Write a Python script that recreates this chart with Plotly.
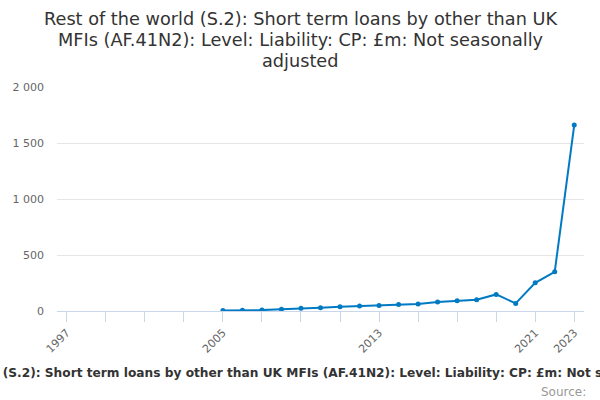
import plotly.graph_objects as go

years = list(range(2005, 2024))
values = [5, 6, 8, 15, 25, 30, 38, 45, 50, 57, 63, 80, 92, 100, 148, 68, 252, 350, 1660]
tick_years = list(range(1997, 2024, 2))
labelled = {1997, 2005, 2013, 2021, 2023}
tick_text = [str(y) if y in labelled else "" for y in tick_years]
y_ticks = [0, 500, 1000, 1500, 2000]
y_tick_text = ["0", "500", "1 000", "1 500", "2 000"]

title_lines = ["Rest of the world (S.2): Short term loans by other than UK",
               "MFIs (AF.41N2): Level: Liability: CP: £m: Not seasonally",
               "adjusted"]
legend_text = ("Rest of the world (S.2): Short term loans by other than UK MFIs (AF.41N2): "
               "Level: Liability: CP: £m: Not seasonally adjusted")

fig = go.Figure()
fig.add_trace(go.Scatter(
    x=years, y=values, mode="lines+markers",
    line=dict(color="#007ac3", width=2),
    marker=dict(color="#007ac3", size=5),
    showlegend=False,
))

W, H = 600, 400
L, R, T, B = 57, 16, 87, 89
plot_h = H - T - B
plot_w = W - L - R


def px_x(x):
    return (x - L) / plot_w


def px_y(y):
    return (H - B - y) / plot_h


annotations = []
for line, yc in zip(title_lines, [19, 40, 61]):
    annotations.append(dict(text=line, x=px_x(300), xref="paper", xanchor="center",
                            y=px_y(yc), yref="paper", yanchor="middle", showarrow=False,
                            font=dict(size=17.7, color="#333333")))
annotations.append(dict(text="<b>" + legend_text + "</b>", x=px_x(306), xref="paper",
                        xanchor="center", y=px_y(373), yref="paper", yanchor="middle",
                        showarrow=False, font=dict(size=12.2, color="#333333")))
annotations.append(dict(text="Source:", x=px_x(588), xref="paper", xanchor="right",
                        y=px_y(392), yref="paper", yanchor="middle", showarrow=False,
                        font=dict(size=12, color="#999999")))

fig.update_layout(
    width=W, height=H,
    paper_bgcolor="white", plot_bgcolor="white",
    font=dict(family="DejaVu Sans", color="#333333"),
    margin=dict(l=L, r=R, t=T, b=B),
    xaxis=dict(
        range=[1996.5, 2023.5], tickmode="array", tickvals=tick_years, ticktext=tick_text,
        tickangle=-45, ticks="outside", ticklen=10, tickcolor="#ccd6eb",
        showline=True, linecolor="#ccd6eb", linewidth=1, showgrid=False, zeroline=False,
        tickfont=dict(size=11, color="#666666"),
    ),
    yaxis=dict(
        range=[0, 2000], tickmode="array", tickvals=y_ticks, ticktext=y_tick_text,
        showgrid=True, gridcolor="#e6e6e6", zeroline=False, showline=False,
        tickfont=dict(size=11, color="#666666"), ticks="", ticklabelstandoff=12,
    ),
    annotations=annotations,
)

fig.write_html("out.html", config={"displayModeBar": False},
               post_script="document.body.style.margin='0';document.body.style.overflow='hidden';")
